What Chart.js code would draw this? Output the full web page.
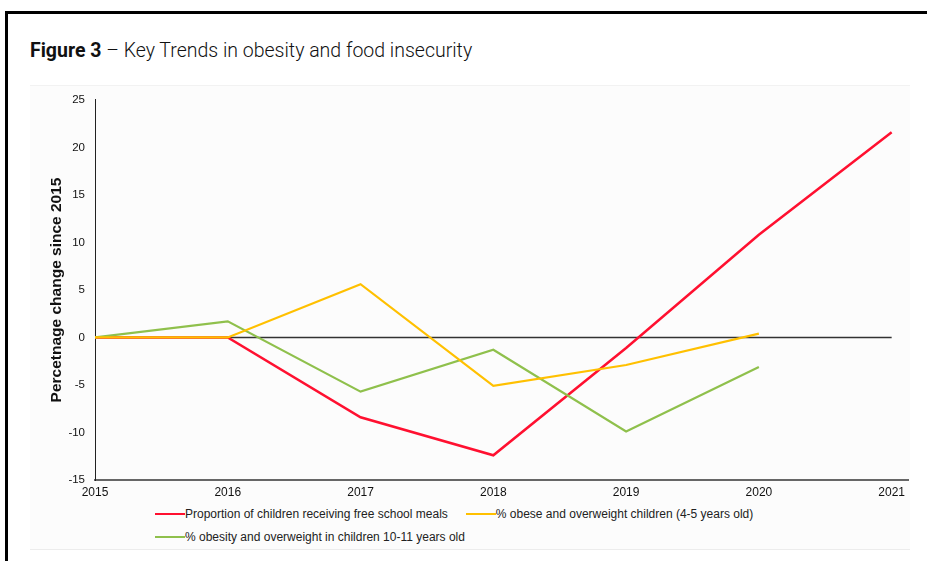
<!DOCTYPE html>
<html lang="en">
<head>
  <meta charset="UTF-8">
  <title>Figure 3 - Key Trends in obesity and food insecurity</title>
  <script src="https://cdn.jsdelivr.net/npm/chart.js"></script>
  <style>
    * {
      margin: 0;
      padding: 0;
      box-sizing: border-box;
    }

    body {
      width: 927px;
      height: 561px;
      overflow: hidden;
      background: #ffffff;
      position: relative;
      font-family: 'Liberation Sans', Arial, sans-serif;
    }

    .frame {
      position: absolute;
      left: 5px;
      top: 11px;
      width: 960px;
      height: 600px;
      border-top: 3px solid #000;
      border-left: 3px solid #000;
    }

    .title {
      position: absolute;
      left: 30px;
      top: 39px;
      font-family: 'Roboto', sans-serif;
      font-size: 19.5px;
      font-weight: 300;
      color: #111;
      white-space: nowrap;
    }

    .title b {
      font-weight: 700;
    }

    .panel {
      position: absolute;
      left: 30px;
      top: 85px;
      width: 880px;
      height: 465px;
      background: #fcfcfc;
      border-top: 1px solid #f2f2f2;
      border-bottom: 1px solid #ececec;
    }

    .chart-box {
      position: absolute;
      left: 30px;
      top: 83px;
      width: 880px;
      height: 422px;
    }

    .legend {
      position: absolute;
      left: 155px;
      top: 506px;
      width: 640px;
      display: flex;
      flex-wrap: wrap;
      column-gap: 18px;
      row-gap: 7px;
      font-size: 12px;
      color: #222;
    }

    .legend span {
      display: flex;
      align-items: center;
      white-space: nowrap;
      height: 16px;
    }

    .legend i {
      display: inline-block;
      width: 30px;
      height: 2px;
    }
  </style>
</head>
<body>
  <div class="frame"></div>
  <div class="title"><b>Figure 3</b> – Key Trends in obesity and food insecurity</div>
  <div class="panel"></div>
  <div class="chart-box"><canvas id="trendChart"></canvas></div>
  <div class="legend" id="legend"></div>

  <script>
    const years = [2015, 2016, 2017, 2018, 2019, 2020, 2021];
    const freeMeals = [0, 0, -8.4, -12.4, -1.1, 10.8, 21.6];
    const obese4to5 = [0, 0, 5.6, -5.1, -2.9, 0.4, null];
    const obese10to11 = [0, 1.7, -5.7, -1.3, -9.9, -3.1, null];
    const zeroLine = [0, 0, 0, 0, 0, 0, 0];
    const yTicks = [-15, -10, -5, 0, 5, 10, 15, 20, 25];

    const toPoints = vals => years.map((yr, i) => ({ x: yr, y: vals[i] }));

    const chart = new Chart(document.getElementById('trendChart'), {
      type: 'line',
      data: {
        datasets: [
          {
            label: 'Proportion of children receiving free school meals',
            data: toPoints(freeMeals),
            borderColor: '#ff1030',
            borderWidth: 2.5,
            order: 3
          },
          {
            label: '% obese and overweight children (4-5 years old)',
            data: toPoints(obese4to5),
            borderColor: '#ffc000',
            borderWidth: 2.2,
            order: 1
          },
          {
            label: '% obesity and overweight in children 10-11 years old',
            data: toPoints(obese10to11),
            borderColor: '#8fc04c',
            borderWidth: 2.2,
            order: 2
          },
          {
            label: 'zero',
            data: toPoints(zeroLine),
            borderColor: '#333333',
            borderWidth: 1.5,
            order: 4
          }
        ]
      },
      options: {
        responsive: true,
        maintainAspectRatio: false,
        animation: false,
        layout: { padding: { top: 7, right: 0, bottom: 0, left: 0 } },
        elements: {
          point: { radius: 0 },
          line: { tension: 0, fill: false }
        },
        plugins: {
          legend: { display: false },
          tooltip: { enabled: false }
        },
        scales: {
          x: {
            type: 'linear',
            min: 2015,
            max: 2021.13,
            grid: { display: false, drawTicks: false },
            border: { display: true, color: '#666', width: 2 },
            afterBuildTicks: scale => { scale.ticks = years.map(v => ({ value: v })); },
            afterFit: scale => { scale.height = 25; },
            ticks: {
              padding: 5,
              color: '#111',
              font: { family: 'Liberation Sans', size: 12 },
              callback: v => String(v)
            }
          },
          y: {
            min: -15,
            max: 25,
            grid: { display: false, drawTicks: false },
            border: { display: true, color: '#222', width: 1 },
            afterBuildTicks: scale => { scale.ticks = yTicks.map(v => ({ value: v })); },
            afterFit: scale => { scale.width = 65; },
            title: {
              display: true,
              text: 'Percetnage change since 2015',
              color: '#111',
              font: { family: 'Liberation Sans', size: 15.5, weight: 'bold' },
              padding: { top: 17, bottom: 0 }
            },
            ticks: {
              padding: 10,
              color: '#111',
              font: { family: 'Liberation Sans', size: 11.5 }
            }
          }
        }
      }
    });

    // html legend from the three real series
    const legend = document.getElementById('legend');
    chart.data.datasets.slice(0, 3).forEach(ds => {
      const item = document.createElement('span');
      item.innerHTML = '<i style="background:' + ds.borderColor + '"></i>' + ds.label;
      legend.appendChild(item);
    });
  </script>
</body>
</html>
